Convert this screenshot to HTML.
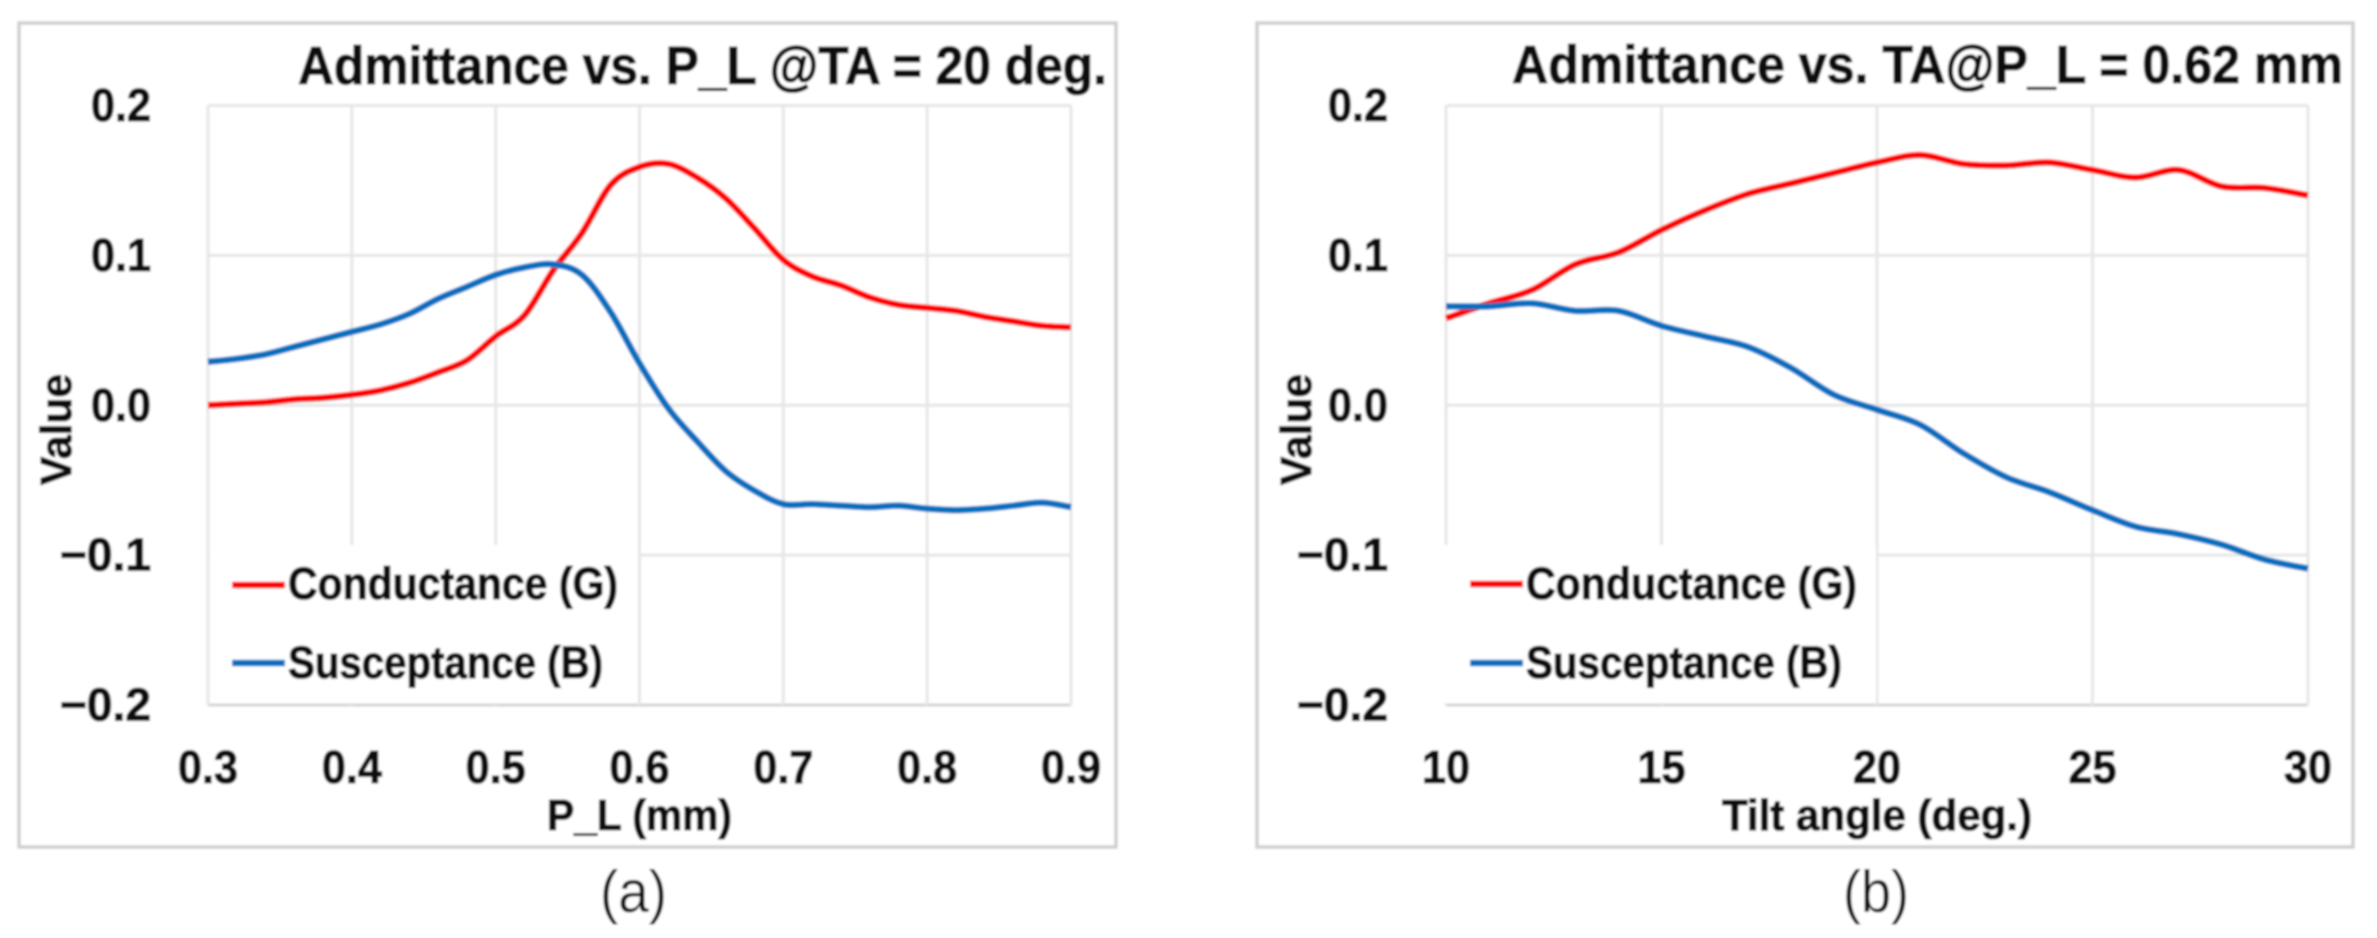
<!DOCTYPE html>
<html lang="en">
<head>
<meta charset="utf-8">
<title>Admittance charts</title>
<style>
html,body{margin:0;padding:0;background:#fff;width:2377px;height:938px;overflow:hidden}
svg{display:block;font-family:"Liberation Sans",sans-serif}
text{fill:#0c0c0c}
.b,text[font-weight="bold"]{font-weight:bold;stroke:#0c0c0c;stroke-width:1.1px}
</style>
</head>
<body>
<svg id="figure" width="2377" height="938" viewBox="0 0 2377 938" xmlns="http://www.w3.org/2000/svg">
  <defs><filter id="soft" x="-2%" y="-2%" width="104%" height="104%"><feGaussianBlur stdDeviation="1"/></filter></defs>
  <g id="root" filter="url(#soft)">
    <rect width="2377" height="938" fill="#fff"/>
    <rect x="19" y="23" width="1097" height="824" fill="#fff" stroke="#cfcfcf" stroke-width="3.5"/>
    <rect x="1257" y="23" width="1096" height="824" fill="#fff" stroke="#cfcfcf" stroke-width="3.5"/>
    <g id="plotA"></g>
    <g id="plotB"></g>

    <text class="b" x="298" y="84" font-size="54" textLength="809" lengthAdjust="spacingAndGlyphs">Admittance vs. P_L @TA = 20 deg.</text>
    <text class="b" x="547" y="830" font-size="44" textLength="185" lengthAdjust="spacingAndGlyphs">P_L (mm)</text>
    <text class="b" transform="translate(71,485) rotate(-90)" font-size="44" textLength="111" lengthAdjust="spacingAndGlyphs">Value</text>
    <text x="600" y="912" font-size="59" textLength="67" lengthAdjust="spacingAndGlyphs">(a)</text>

    <text class="b" x="1512" y="83" font-size="54" textLength="831" lengthAdjust="spacingAndGlyphs">Admittance vs. TA@P_L = 0.62 mm</text>
    <text class="b" x="1722" y="830" font-size="44" textLength="310" lengthAdjust="spacingAndGlyphs">Tilt angle (deg.)</text>
    <text class="b" transform="translate(1311,485) rotate(-90)" font-size="44" textLength="111" lengthAdjust="spacingAndGlyphs">Value</text>
    <text x="1843" y="912" font-size="59" textLength="66" lengthAdjust="spacingAndGlyphs">(b)</text>
  </g>
</svg>
<script>
// Panel (a) data
const aPL = [0.30,0.32,0.34,0.36,0.38,0.40,0.42,0.44,0.46,0.48,0.50,0.52,0.54,0.56,0.58,0.60,0.62,0.64,0.66,0.68,0.70,0.72,0.74,0.76,0.78,0.80,0.82,0.84,0.86,0.88,0.90];
const aConductance = [0.000,0.001,0.002,0.004,0.005,0.007,0.010,0.015,0.022,0.030,0.046,0.060,0.090,0.115,0.147,0.159,0.161,0.152,0.138,0.118,0.097,0.086,0.080,0.072,0.067,0.065,0.063,0.059,0.056,0.053,0.052];
const aSusceptance = [0.029,0.031,0.034,0.039,0.044,0.049,0.054,0.061,0.071,0.079,0.087,0.092,0.094,0.087,0.062,0.028,-0.002,-0.024,-0.044,-0.057,-0.066,-0.066,-0.067,-0.068,-0.067,-0.069,-0.070,-0.069,-0.067,-0.065,-0.068];
const aXTicks = [0.3,0.4,0.5,0.6,0.7,0.8,0.9];
const aXLabels = ["0.3","0.4","0.5","0.6","0.7","0.8","0.9"];

// Panel (b) data
const bAngle = [10,11,12,13,14,15,16,17,18,19,20,21,22,23,24,25,26,27,28,29,30];
const bConductance = [0.058,0.068,0.077,0.094,0.102,0.117,0.130,0.141,0.148,0.155,0.162,0.167,0.161,0.160,0.162,0.157,0.152,0.157,0.146,0.145,0.140];
const bSusceptance = [0.066,0.066,0.068,0.063,0.063,0.053,0.046,0.039,0.025,0.007,-0.003,-0.013,-0.032,-0.048,-0.058,-0.070,-0.081,-0.086,-0.093,-0.103,-0.109];
const bXTicks = [10,15,20,25,30];
const bXLabels = ["10","15","20","25","30"];

// Shared value axis and legend text
const yTicks = [0.2,0.1,0,-0.1,-0.2];
const yLabels = ["0.2","0.1","0.0","\u22120.1","\u22120.2"];
const legendNames = ["Conductance (G)","Susceptance (B)"];

const NS = "http://www.w3.org/2000/svg";

function make(parent, tag, attrs, content) {
  const el = document.createElementNS(NS, tag);
  for (const k in attrs) el.setAttribute(k, attrs[k]);
  if (content !== undefined) el.textContent = content;
  parent.appendChild(el);
  return el;
}

function smoothPath(pts) {
  let d = "M" + pts[0][0].toFixed(2) + " " + pts[0][1].toFixed(2);
  for (let i = 0; i < pts.length - 1; i++) {
    const p0 = pts[Math.max(i - 1, 0)], p1 = pts[i], p2 = pts[i + 1], p3 = pts[Math.min(i + 2, pts.length - 1)];
    const c1x = p1[0] + (p2[0] - p0[0]) / 6, c1y = p1[1] + (p2[1] - p0[1]) / 6;
    const c2x = p2[0] - (p3[0] - p1[0]) / 6, c2y = p2[1] - (p3[1] - p1[1]) / 6;
    d += "C" + c1x.toFixed(2) + " " + c1y.toFixed(2) + " " + c2x.toFixed(2) + " " + c2y.toFixed(2) + " " + p2[0].toFixed(2) + " " + p2[1].toFixed(2);
  }
  return d;
}

function drawChart(cfg) {
  const g = document.getElementById(cfg.id);
  const xMin = cfg.xTicks[0], xMax = cfg.xTicks[cfg.xTicks.length - 1];
  const xAxis = v => cfg.left + (v - xMin) / (xMax - xMin) * (cfg.right - cfg.left);
  const yAxis = v => cfg.zero - v / 0.2 * (cfg.zero - cfg.top);

  yTicks.forEach((t, i) => {
    const line = make(g, "line", {x1: cfg.left, x2: cfg.right, y1: yAxis(t), y2: yAxis(t), stroke: i === 4 ? "#d4d4d4" : "#e6e6e6", "stroke-width": 3});
    
    
    const label = make(g, "text", {x: cfg.yLabelX, y: yAxis(t) + 15.5, "font-size": 46, "font-weight": "bold", "text-anchor": "end", textLength: yLabels[i].length > 3 ? 91 : 60, lengthAdjust: "spacingAndGlyphs"}, yLabels[i]);
    
    
  });

  cfg.xTicks.forEach((t, i) => {
    const line = make(g, "line", {x1: xAxis(t), x2: xAxis(t), y1: yAxis(0.2), y2: yAxis(-0.2), stroke: "#e6e6e6", "stroke-width": 3});
    
    
    const label = make(g, "text", {x: xAxis(t), y: 783, "font-size": 46, "font-weight": "bold", "text-anchor": "middle", textLength: cfg.xLabels[i].length > 2 ? 60 : 48, lengthAdjust: "spacingAndGlyphs"}, cfg.xLabels[i]);
    
    
  });

  const legendBg = make(g, "rect", {x: cfg.legendBgX, y: 545, width: cfg.legendBgW, height: yAxis(-0.2) - 547, fill: "#fff"});
  
  

  const colors = ["#ff0000", "#0070c0"];
  cfg.series.forEach((vals, s) => {
    const pts = cfg.xs.map((x, i) => [xAxis(x), yAxis(vals[i])]);
    const line = make(g, "path", {d: smoothPath(pts), fill: "none", stroke: colors[s], "stroke-width": 6.5, "stroke-linejoin": "round"});
    
    

    const sw = make(g, "line", {x1: cfg.legendX, x2: cfg.legendX + 53, y1: cfg.legendY[s], y2: cfg.legendY[s], stroke: colors[s], "stroke-width": 6.5});
    
    
    const txt = make(g, "text", {x: cfg.legendTextX, y: s === 0 ? 599 : 678, "font-size": 45, "font-weight": "bold", textLength: cfg.legendWidths[s], lengthAdjust: "spacingAndGlyphs"}, legendNames[s]);
    
    
  });
}

drawChart({id: "plotA", left: 208, right: 1071, top: 105.5, zero: 405.25, yLabelX: 151,
  xs: aPL, series: [aConductance, aSusceptance], xTicks: aXTicks, xLabels: aXLabels,
  legendBgX: 210, legendBgW: 428, legendX: 232, legendTextX: 288, legendY: [585, 663], legendWidths: [330, 315]});
drawChart({id: "plotB", left: 1446, right: 2308, top: 105.5, zero: 405.25, yLabelX: 1388,
  xs: bAngle, series: [bConductance, bSusceptance], xTicks: bXTicks, xLabels: bXLabels,
  legendBgX: 1444, legendBgW: 432, legendX: 1470, legendTextX: 1526, legendY: [584, 663], legendWidths: [331, 316]});
</script>
</body>
</html>
